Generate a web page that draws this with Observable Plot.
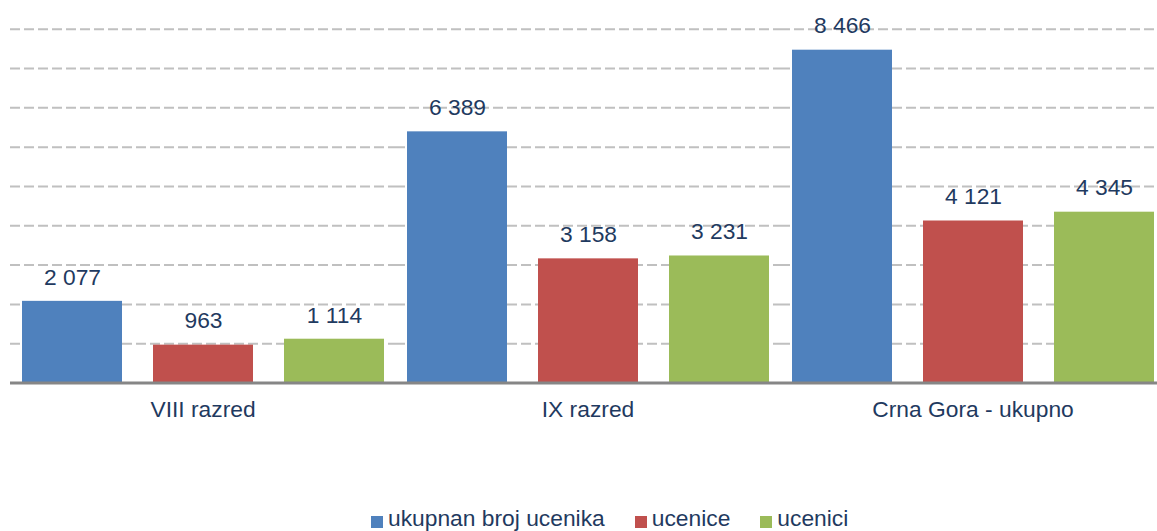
<!DOCTYPE html>
<html>
<head>
<meta charset="utf-8">
<script src="https://cdn.jsdelivr.net/npm/d3@7"></script>
<script src="https://cdn.jsdelivr.net/npm/@observablehq/plot@0.6"></script>
<style>
  html, body { margin: 0; padding: 0; background: #fff; overflow: hidden; width: 1157px; height: 531px; }
  #chart { position: absolute; left: 0; top: 0; }
  #chart svg { max-width: none !important; display: block; }
  #legend { position: absolute; left: 371px; top: 506px; display: flex; align-items: center;
    font-family: "Liberation Sans", Arial, sans-serif; font-size: 22.8px; line-height: 24px; color: #1f3a60; white-space: nowrap; }
  #legend .sw { width: 12px; height: 12px; margin-right: 5px; position: relative; top: 4px; }
  #legend .item { display: flex; align-items: center; margin-right: 30px; }
</style>
</head>
<body>
<div id="chart"></div>
<div id="legend"></div>
<script>
const groups = ["VIII razred", "IX razred", "Crna Gora - ukupno"];
const series = ["ukupnan broj ucenika", "ucenice", "ucenici"];
const colors = ["#4F81BD", "#C0504D", "#9BBB59"];
const totalValues = [2077, 6389, 8466];
const femaleValues = [963, 3158, 4121];
const maleValues = [1114, 3231, 4345];
const gridTicks = [1000, 2000, 3000, 4000, 5000, 6000, 7000, 8000, 9000];

const seriesValues = [totalValues, femaleValues, maleValues];
const data = [];
groups.forEach((g, gi) => {
  series.forEach((s, si) => {
    data.push({group: g, series: s, value: seriesValues[si][gi]});
  });
});

const fmt = v => d3.format(",")(v).replace(/,/g, " ");
const textColor = "#1f3a60";
const font = "Liberation Sans, Arial, sans-serif";

const chart = Plot.plot({
  width: 1166,
  height: 440,
  marginLeft: 9,
  marginRight: 0,
  marginTop: 28.7,
  marginBottom: 57.5,
  style: {fontFamily: font, fontSize: "22.8px", color: textColor, background: "#fff"},
  fx: {domain: groups, padding: 0, axis: null, label: null},
  x: {domain: series, paddingInner: 0.2395, paddingOuter: 0.0855, axis: null, label: null},
  y: {domain: [0, 9000], axis: null, label: null},
  color: {domain: series, range: colors},
  marks: [
    Plot.ruleY(gridTicks, {stroke: "#c0c0c0", strokeWidth: 2, strokeDasharray: "10,4"}),
    Plot.barY(data, {fx: "group", x: "series", y: "value", fill: "series"}),
    Plot.text(data, {fx: "group", x: "series", y: "value", text: d => fmt(d.value), dy: -24,
      fill: textColor, fontSize: 22.8, fontFamily: font}),
    Plot.ruleY([0], {stroke: "#868686", strokeWidth: 3}),
    Plot.text(groups, {fx: d => d, text: d => d, frameAnchor: "bottom", lineAnchor: "middle", dy: 27,
      fill: textColor, fontSize: 22.8, fontFamily: font})
  ]
});
document.getElementById("chart").appendChild(chart);

const legend = document.getElementById("legend");
series.forEach((s, i) => {
  const item = document.createElement("div");
  item.className = "item";
  const sw = document.createElement("div");
  sw.className = "sw";
  sw.style.background = colors[i];
  const label = document.createElement("span");
  label.textContent = s;
  item.appendChild(sw);
  item.appendChild(label);
  legend.appendChild(item);
});
</script>
</body>
</html>
